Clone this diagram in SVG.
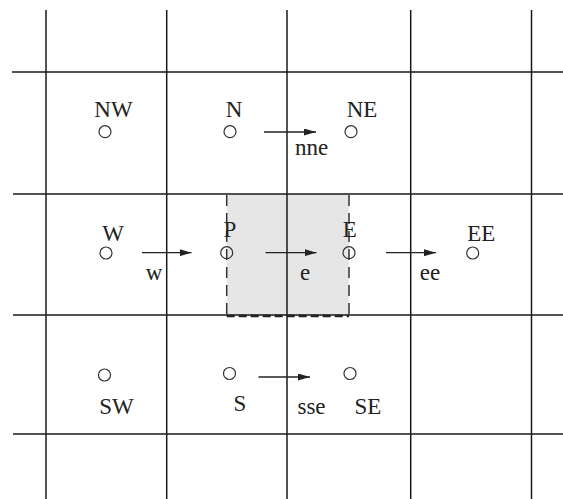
<svg xmlns="http://www.w3.org/2000/svg" width="563" height="499" viewBox="0 0 563 499">
<style>
.grid{stroke:#1a1a1a;stroke-width:1.5;fill:none}
.nd{fill:none;stroke:#333;stroke-width:1.2}
.lb{font-family:"Liberation Serif","Times New Roman",serif;font-size:23px;fill:#222;text-anchor:middle}
.ar{stroke:#222;stroke-width:1.3;fill:none;marker-end:url(#ah)}
.dv{stroke:#333;stroke-width:1.5;stroke-dasharray:11 7;fill:none}
.db{stroke:#222;stroke-width:2.5;stroke-dasharray:8 4;fill:none}
</style>
<defs>
<marker id="ah" markerUnits="userSpaceOnUse" markerWidth="12" markerHeight="7" refX="12" refY="3.5" orient="auto">
<path d="M0,0 L12,3.5 L0,7 z" fill="#222"/>
</marker>
</defs>
<rect width="563" height="499" fill="#fff"/>
<g id="control-volume">
<rect x="226.7" y="194" width="122.3" height="122" fill="#e6e6e6"/>
</g>
<g id="grid">
<line class="grid" x1="46" y1="10" x2="46" y2="499"/>
<line class="grid" x1="166.7" y1="10" x2="166.7" y2="499"/>
<line class="grid" x1="287" y1="10" x2="287" y2="499"/>
<line class="grid" x1="410.7" y1="10" x2="410.7" y2="499"/>
<line class="grid" x1="531.5" y1="10" x2="531.5" y2="499"/>
<line class="grid" x1="12" y1="72" x2="563" y2="72"/>
<line class="grid" x1="13" y1="194" x2="563" y2="194"/>
<line class="grid" x1="13" y1="315" x2="563" y2="315"/>
<line class="grid" x1="13" y1="434" x2="563" y2="434"/>
</g>
<g id="cv-border">
<line class="dv" x1="226.7" y1="195" x2="226.7" y2="316"/>
<line class="dv" x1="349" y1="195" x2="349" y2="316"/>
<line class="db" x1="226.7" y1="316" x2="349" y2="316"/>
</g>
<g id="NW"><circle class="nd" cx="105" cy="131.7" r="6"/><text class="lb" x="113.5" y="116.5">NW</text></g>
<g id="N"><circle class="nd" cx="230" cy="131.7" r="6"/><text class="lb" x="234" y="116.5">N</text></g>
<g id="NE"><circle class="nd" cx="351" cy="131.7" r="6"/><text class="lb" x="362" y="116.5">NE</text></g>
<g id="W"><circle class="nd" cx="106" cy="253" r="6"/><text class="lb" x="113" y="240.7">W</text></g>
<g id="P"><circle class="nd" cx="226.7" cy="252.7" r="6"/><text class="lb" x="230" y="236.7">P</text></g>
<g id="E"><circle class="nd" cx="349" cy="252.7" r="6"/><text class="lb" x="349.7" y="237">E</text></g>
<g id="EE"><circle class="nd" cx="472.7" cy="253" r="6"/><text class="lb" x="481.3" y="240.7">EE</text></g>
<g id="SW"><circle class="nd" cx="104.5" cy="375" r="6"/><text class="lb" x="116.5" y="414">SW</text></g>
<g id="S"><circle class="nd" cx="229.5" cy="373.5" r="6"/><text class="lb" x="240" y="410.7">S</text></g>
<g id="SE"><circle class="nd" cx="350" cy="373.5" r="6"/><text class="lb" x="368" y="414">SE</text></g>
<g id="connectors">
<line class="ar" x1="264" y1="132" x2="316" y2="132"/>
<text class="lb" x="311.7" y="155">nne</text>
<line class="ar" x1="142" y1="252.7" x2="191.5" y2="252.7"/>
<text class="lb" x="154" y="280">w</text>
<line class="ar" x1="265.5" y1="252.7" x2="316.5" y2="252.7"/>
<text class="lb" x="305" y="280">e</text>
<line class="ar" x1="386" y1="252.7" x2="436" y2="252.7"/>
<text class="lb" x="430" y="280">ee</text>
<line class="ar" x1="258.5" y1="377" x2="310" y2="377"/>
<text class="lb" x="311.5" y="414">sse</text>
</g>
</svg>
